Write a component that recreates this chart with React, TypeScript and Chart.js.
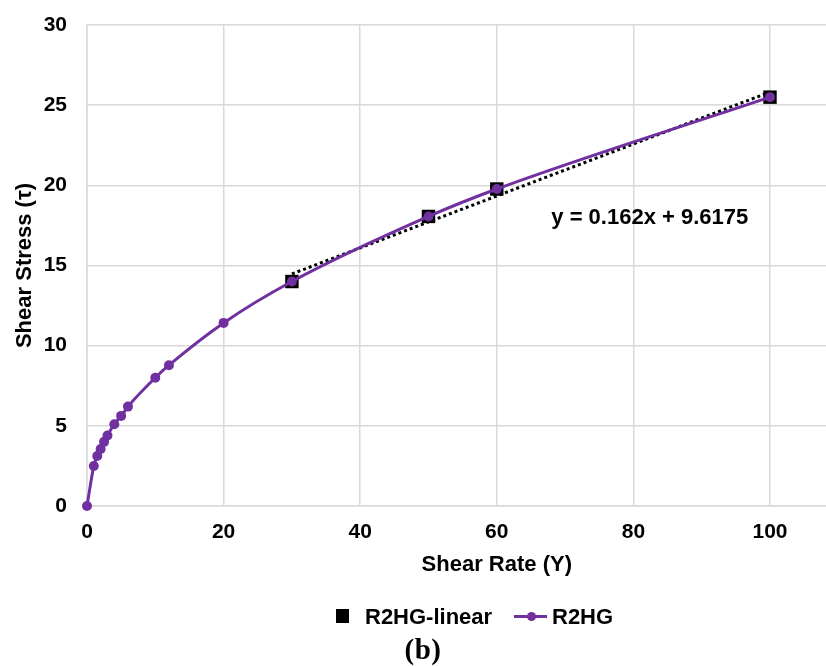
import React, { useEffect, useRef } from "react";
import { Chart, registerables } from "chart.js";

Chart.register(...registerables);

// ---- data ----
const shearRate = [0, 1, 1.5, 2, 2.5, 3, 4, 5, 6, 10, 12, 20, 30, 50, 60, 100];
const shearStress = [0, 2.5, 3.12, 3.55, 4.0, 4.4, 5.1, 5.62, 6.2, 8.0, 8.78, 11.42, 14.0, 18.06, 19.77, 25.5];
const linearRate = [30, 50, 60, 100];
const linearStress = [14.0, 18.06, 19.77, 25.5];
const trendSlope = 0.162;
const trendIntercept = 9.6175;
const trendFrom = 30;
const trendTo = 100;
const trendLabel = "y = 0.162x + 9.6175";
const xTicks = [0, 20, 40, 60, 80, 100];
const yTicks = [0, 5, 10, 15, 20, 25, 30];
const seriesNames = ["R2HG", "R2HG-linear", "Linear (R2HG-linear)"];
const xTitle = "Shear Rate (Υ)";
const yTitle = "Shear Stress (τ)";

const PURPLE = "#7030A0";
const GRID = "#d9d9d9";
const SANS = '"Liberation Sans", Arial, sans-serif';

const textPlugin = {
  id: "extraText",
  afterDraw(chart: any) {
    const { ctx, scales } = chart;
    ctx.save();
    ctx.font = `bold 22px ${SANS}`;
    ctx.fillStyle = "#000";
    ctx.textAlign = "center";
    ctx.textBaseline = "middle";
    // trendline equation
    ctx.fillText(trendLabel, scales.x.getPixelForValue(82.4), scales.y.getPixelForValue(17.98));
    // x-axis title (centred on the original, wider axis)
    ctx.fillText(xTitle, scales.x.getPixelForValue(60), scales.x.bottom - 21);
    ctx.restore();
  },
};

export default function App() {
  const ref = useRef<HTMLCanvasElement | null>(null);

  useEffect(() => {
    if (!ref.current) return;
    const chart = new Chart(ref.current, {
      type: "scatter",
      data: {
        datasets: [
          {
            label: seriesNames[0],
            data: shearRate.map((x, i) => ({ x, y: shearStress[i] })),
            showLine: true,
            borderColor: PURPLE,
            backgroundColor: PURPLE,
            borderWidth: 3,
            pointRadius: 5,
            pointBorderWidth: 0,
            pointStyle: "circle",
            cubicInterpolationMode: "monotone",
            clip: false,
            order: 0,
          } as any,
          {
            label: seriesNames[1],
            data: linearRate.map((x, i) => ({ x, y: linearStress[i] })),
            showLine: false,
            pointStyle: "rect",
            pointRadius: 9.5,
            pointBorderWidth: 0,
            backgroundColor: "#000",
            borderColor: "#000",
            clip: false,
            order: 1,
          } as any,
          {
            label: seriesNames[2],
            data: [trendFrom, trendTo].map((x) => ({ x, y: trendSlope * x + trendIntercept })),
            showLine: true,
            borderColor: "#000",
            borderWidth: 3,
            borderDash: [3, 3],
            pointRadius: 0,
            clip: false,
            order: 2,
          } as any,
        ],
      },
      options: {
        animation: false,
        responsive: false,
        devicePixelRatio: 1,
        layout: { autoPadding: false, padding: { top: 25, right: 0, bottom: 80, left: 0 } },
        plugins: {
          legend: { display: false },
          tooltip: { enabled: false },
        },
        scales: {
          x: {
            type: "linear",
            min: 0,
            max: 108.2,
            afterBuildTicks: (s: any) => {
              s.ticks = xTicks.map((v) => ({ value: v }));
            },
            afterFit: (s: any) => {
              s.height = 80;
              s.paddingLeft = 0;
              s.paddingRight = 0;
            },
            grid: { color: GRID, lineWidth: 1.5, drawTicks: false },
            border: { display: true, color: GRID, width: 1.5 },
            ticks: {
              color: "#000",
              padding: 14,
              font: { family: SANS, size: 21, weight: "bold" },
            },
            title: { display: false },
          },
          y: {
            type: "linear",
            min: 0,
            max: 30,
            afterBuildTicks: (s: any) => {
              s.ticks = yTicks.map((v) => ({ value: v }));
            },
            afterFit: (s: any) => {
              s.width = 87;
              s.paddingTop = 0;
              s.paddingBottom = 0;
            },
            grid: { color: GRID, lineWidth: 1.5, drawTicks: false },
            border: { display: true, color: GRID, width: 1.5 },
            ticks: {
              color: "#000",
              padding: 20,
              font: { family: SANS, size: 21, weight: "bold" },
            },
            title: {
              display: true,
              text: yTitle,
              color: "#000",
              padding: { top: 12, bottom: 0 },
              font: { family: SANS, size: 22, weight: "bold" },
            },
          },
        },
      } as any,
      plugins: [textPlugin],
    });
    return () => chart.destroy();
  }, []);

  const legendText: React.CSSProperties = {
    position: "absolute",
    top: 606,
    fontFamily: SANS,
    fontWeight: "bold",
    fontSize: 22,
    lineHeight: "22px",
    color: "#000",
    whiteSpace: "nowrap",
  };

  return (
    <div style={{ position: "fixed", left: 0, top: 0, width: 826, height: 666, background: "#fff", overflow: "hidden" }}>
      <canvas ref={ref} width={826} height={666} style={{ position: "absolute", left: 0, top: 0 }} />
      <div style={{ position: "absolute", left: 336, top: 609, width: 13, height: 14, background: "#000" }} />
      <div style={{ ...legendText, left: 365 }}>{seriesNames[1]}</div>
      <div style={{ position: "absolute", left: 514, top: 615, width: 33, height: 3, background: PURPLE }} />
      <div style={{ position: "absolute", left: 526.5, top: 612, width: 9, height: 9, borderRadius: "50%", background: PURPLE }} />
      <div style={{ ...legendText, left: 552 }}>{seriesNames[0]}</div>
      <div
        style={{
          position: "absolute",
          left: 373,
          top: 635,
          width: 100,
          textAlign: "center",
          fontFamily: '"Liberation Serif", "DejaVu Serif", serif',
          fontWeight: "bold",
          fontSize: 29,
          lineHeight: "29px",
          letterSpacing: 0.5,
          color: "#000",
        }}
      >
        (b)
      </div>
    </div>
  );
}
